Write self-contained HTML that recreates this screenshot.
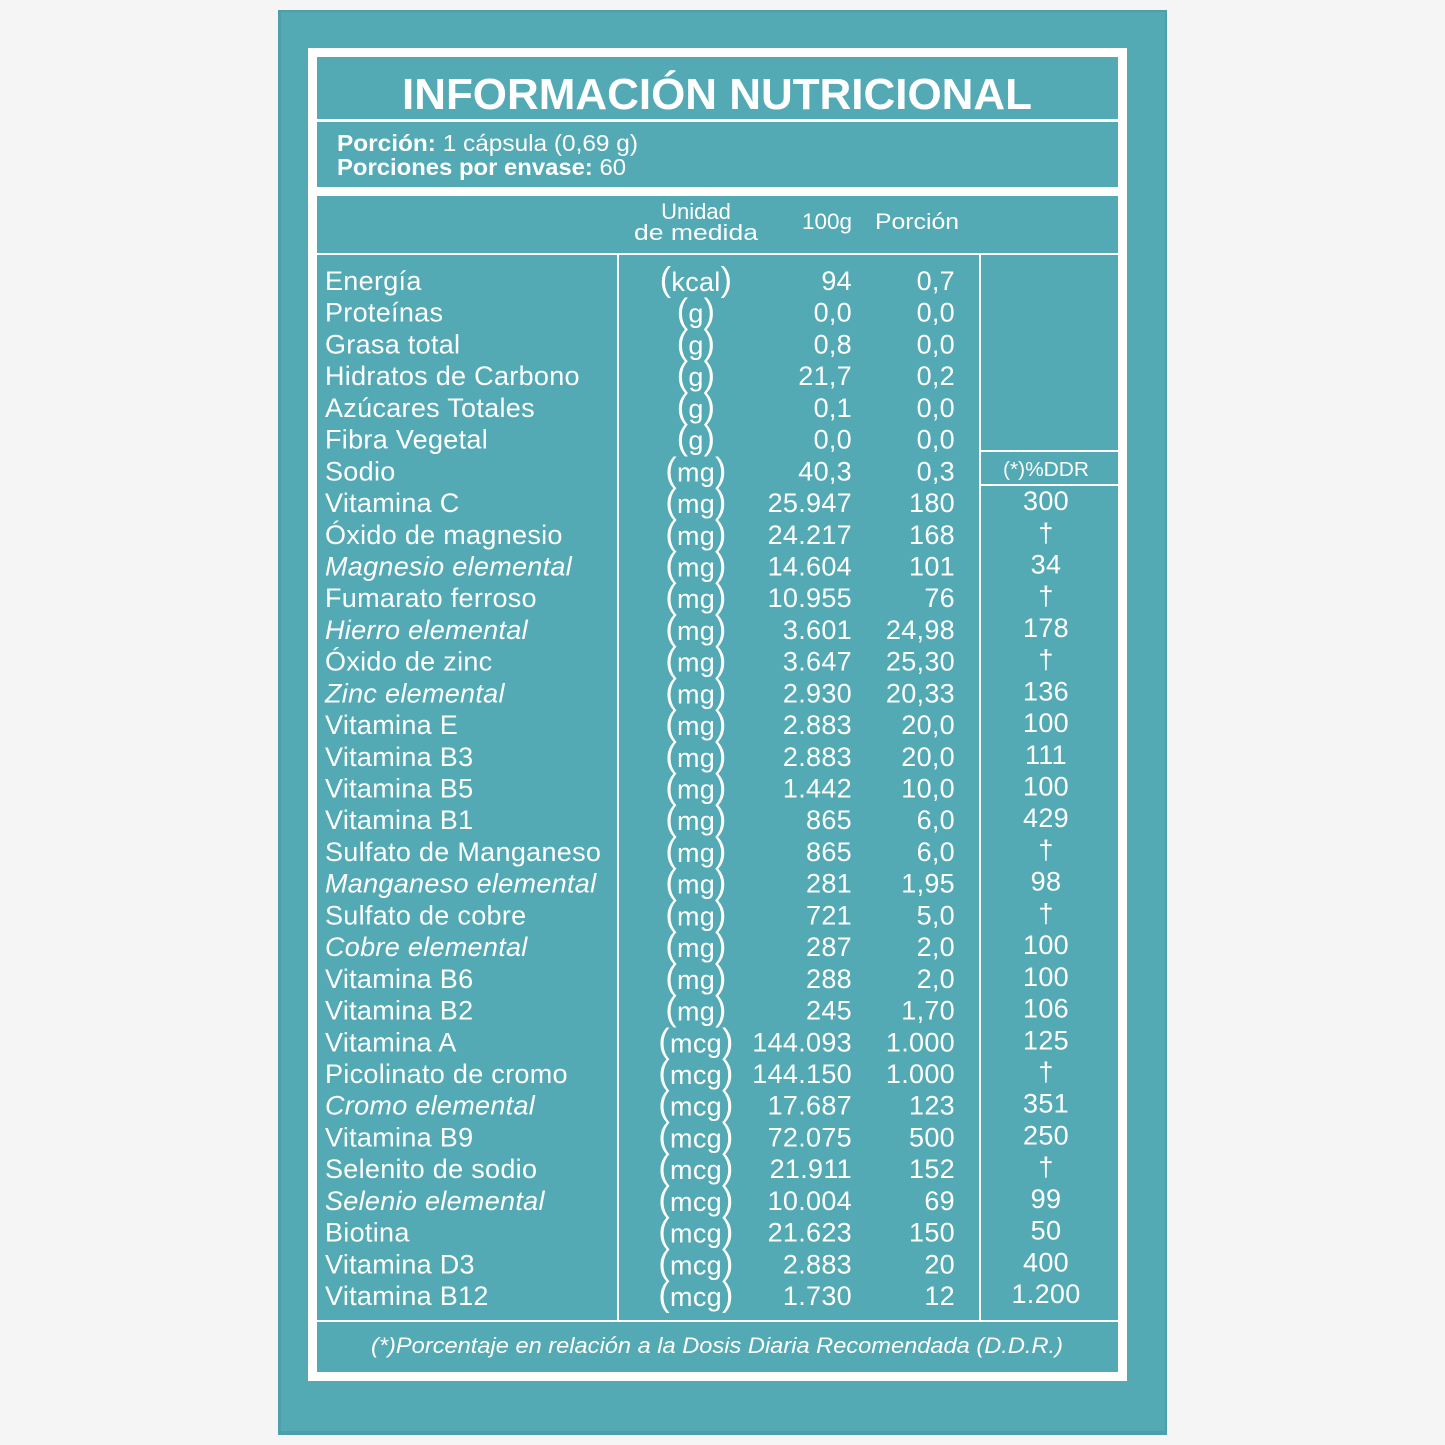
<!DOCTYPE html>
<html><head><meta charset="utf-8"><style>
html,body{margin:0;padding:0;background:#f5f5f5;}
svg{display:block;}
text{font-family:"Liberation Sans",sans-serif;fill:#fff;}
</style></head><body>
<svg width="1445" height="1445" viewBox="0 0 1445 1445" xmlns="http://www.w3.org/2000/svg">
<rect x="0" y="0" width="1445" height="1445" fill="#f5f5f5"/>
<rect x="278" y="10" width="889" height="1425" fill="#4d9fab"/>
<rect x="281" y="12" width="884" height="1419" fill="#53aab5"/>
<rect x="308" y="48" width="819" height="1333" fill="#ffffff"/>
<rect x="317" y="57" width="801" height="1315" fill="#53aab5"/>
<rect x="317" y="119" width="801" height="3" fill="#fff"/>
<rect x="317" y="187" width="801" height="9" fill="#fff"/>
<rect x="317" y="253" width="801" height="2" fill="#fff"/>
<rect x="317" y="1320" width="801" height="2" fill="#fff"/>
<rect x="617" y="254" width="2" height="1067" fill="#fff"/>
<rect x="979" y="254" width="2" height="1067" fill="#fff"/>
<rect x="980" y="450" width="138" height="2" fill="#fff"/>
<rect x="980" y="484" width="138" height="2" fill="#fff"/>
<text x="717" y="109" text-anchor="middle" font-size="44" font-weight="bold" textLength="630" lengthAdjust="spacingAndGlyphs">INFORMACIÓN NUTRICIONAL</text>
<text x="337" y="151" font-size="23" textLength="301" lengthAdjust="spacingAndGlyphs"><tspan font-weight="bold">Porción:</tspan> 1 cápsula (0,69 g)</text>
<text x="337" y="175" font-size="23" textLength="289" lengthAdjust="spacingAndGlyphs"><tspan font-weight="bold">Porciones por envase:</tspan> 60</text>
<text x="696" y="219" text-anchor="middle" font-size="22">Unidad</text>
<text x="696" y="240" text-anchor="middle" font-size="22" textLength="124" lengthAdjust="spacingAndGlyphs">de medida</text>
<text x="852" y="229" text-anchor="end" font-size="22" textLength="50" lengthAdjust="spacingAndGlyphs">100g</text>
<text x="917" y="229" text-anchor="middle" font-size="22" textLength="84" lengthAdjust="spacingAndGlyphs">Porción</text>
<text x="1046" y="476" text-anchor="middle" font-size="20" textLength="86" lengthAdjust="spacingAndGlyphs">(*)%DDR</text>
<g id="rows" font-size="27" letter-spacing="0.3"></g>
<text x="717" y="1353" text-anchor="middle" font-size="22" font-style="italic" textLength="692" lengthAdjust="spacingAndGlyphs">(*)Porcentaje en relación a la Dosis Diaria Recomendada (D.D.R.)</text>
</svg>
<script>
var d=[
["Energía","kcal","94","0,7",""],
["Proteínas","g","0,0","0,0",""],
["Grasa total","g","0,8","0,0",""],
["Hidratos de Carbono","g","21,7","0,2",""],
["Azúcares Totales","g","0,1","0,0",""],
["Fibra Vegetal","g","0,0","0,0",""],
["Sodio","mg","40,3","0,3",""],
["Vitamina C","mg","25.947","180","300"],
["Óxido de magnesio","mg","24.217","168","†"],
["*Magnesio elemental","mg","14.604","101","34"],
["Fumarato ferroso","mg","10.955","76","†"],
["*Hierro elemental","mg","3.601","24,98","178"],
["Óxido de zinc","mg","3.647","25,30","†"],
["*Zinc elemental","mg","2.930","20,33","136"],
["Vitamina E","mg","2.883","20,0","100"],
["Vitamina B3","mg","2.883","20,0","111"],
["Vitamina B5","mg","1.442","10,0","100"],
["Vitamina B1","mg","865","6,0","429"],
["Sulfato de Manganeso","mg","865","6,0","†"],
["*Manganeso elemental","mg","281","1,95","98"],
["Sulfato de cobre","mg","721","5,0","†"],
["*Cobre elemental","mg","287","2,0","100"],
["Vitamina B6","mg","288","2,0","100"],
["Vitamina B2","mg","245","1,70","106"],
["Vitamina A","mcg","144.093","1.000","125"],
["Picolinato de cromo","mcg","144.150","1.000","†"],
["*Cromo elemental","mcg","17.687","123","351"],
["Vitamina B9","mcg","72.075","500","250"],
["Selenito de sodio","mcg","21.911","152","†"],
["*Selenio elemental","mcg","10.004","69","99"],
["Biotina","mcg","21.623","150","50"],
["Vitamina D3","mcg","2.883","20","400"],
["Vitamina B12","mcg","1.730","12","1.200"]];
var ns="http://www.w3.org/2000/svg",g=document.getElementById("rows");
function t(x,y,s,a,it,fs){var e=document.createElementNS(ns,"text");e.setAttribute("x",x);e.setAttribute("y",y);e.setAttribute("text-anchor",a);if(it)e.setAttribute("font-style","italic");if(fs)e.setAttribute("font-size",fs);e.textContent=s;g.appendChild(e);return e;}
d.forEach(function(r,i){var y=290+i*31.72;var it=r[0][0]=="*";var n=it?r[0].slice(1):r[0];
t(325,y,n,"start",it);
var e=document.createElementNS(ns,"text");e.setAttribute("x",696);e.setAttribute("y",y+1);e.setAttribute("text-anchor","middle");
e.innerHTML='<tspan font-size="34">(</tspan>'+r[1]+'<tspan font-size="34">)</tspan>';g.appendChild(e);
t(852,y,r[2],"end");t(955,y,r[3],"end");
if(r[4])t(1046,y-2,r[4],"middle");});
</script>
</body></html>
